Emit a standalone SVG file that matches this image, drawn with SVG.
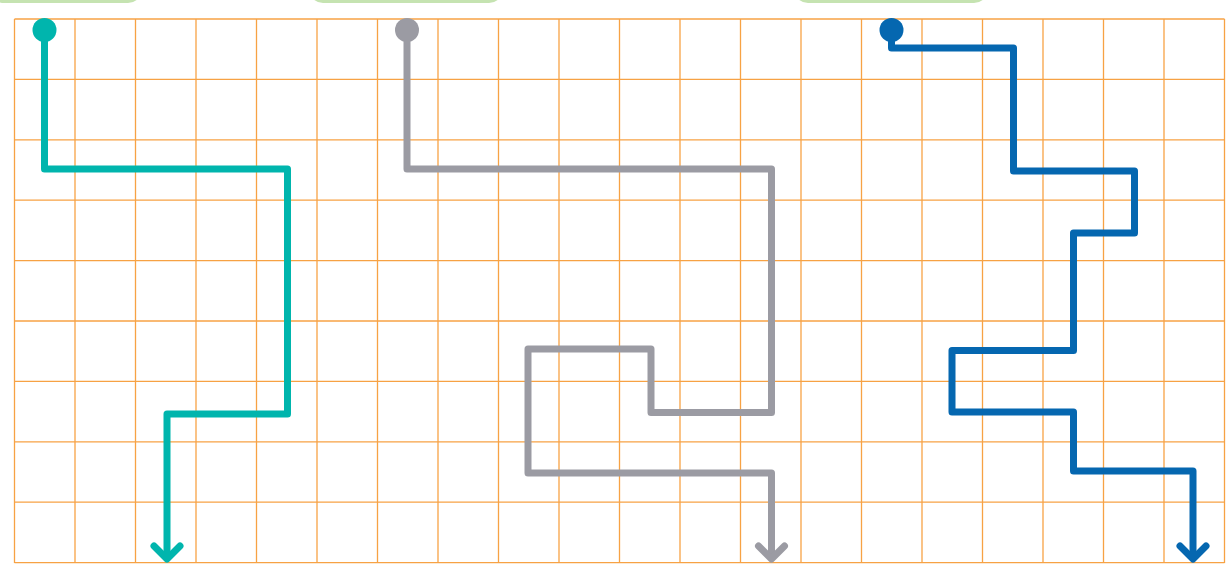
<svg xmlns="http://www.w3.org/2000/svg" width="1229" height="564" viewBox="0 0 1229 564">
<style>
.grid line{stroke:#f7a244;stroke-width:1.3}
.tab{fill:#c5e3b1}
.p{fill:none;stroke-width:7;stroke-linejoin:round;stroke-linecap:butt}
.ah{fill:none;stroke-width:7;stroke-linejoin:round;stroke-linecap:round}
.teal{stroke:#00b5ad}
.gray{stroke:#9b9ba3}
.blue{stroke:#0567b0}
</style>
<rect width="1229" height="564" fill="#ffffff"/>
<g id="tabs">
<rect class="tab" x="-10" y="-30" width="152" height="33" rx="14"/>
<rect class="tab" x="309" y="-30" width="194" height="33" rx="14"/>
<rect class="tab" x="794" y="-30" width="194" height="33" rx="14"/>
</g>
<g id="grid" class="grid">
<line x1="14.5" y1="19" x2="14.5" y2="563"/>
<line x1="75" y1="19" x2="75" y2="563"/>
<line x1="135.5" y1="19" x2="135.5" y2="563"/>
<line x1="196" y1="19" x2="196" y2="563"/>
<line x1="256.5" y1="19" x2="256.5" y2="563"/>
<line x1="317" y1="19" x2="317" y2="563"/>
<line x1="377.5" y1="19" x2="377.5" y2="563"/>
<line x1="438" y1="19" x2="438" y2="563"/>
<line x1="498.5" y1="19" x2="498.5" y2="563"/>
<line x1="559" y1="19" x2="559" y2="563"/>
<line x1="619.5" y1="19" x2="619.5" y2="563"/>
<line x1="680" y1="19" x2="680" y2="563"/>
<line x1="740.5" y1="19" x2="740.5" y2="563"/>
<line x1="801" y1="19" x2="801" y2="563"/>
<line x1="861.5" y1="19" x2="861.5" y2="563"/>
<line x1="922" y1="19" x2="922" y2="563"/>
<line x1="982.5" y1="19" x2="982.5" y2="563"/>
<line x1="1043" y1="19" x2="1043" y2="563"/>
<line x1="1103.5" y1="19" x2="1103.5" y2="563"/>
<line x1="1164" y1="19" x2="1164" y2="563"/>
<line x1="1224.5" y1="19" x2="1224.5" y2="563"/>
<line x1="14.5" y1="19" x2="1224.5" y2="19"/>
<line x1="14.5" y1="79.4" x2="1224.5" y2="79.4"/>
<line x1="14.5" y1="139.8" x2="1224.5" y2="139.8"/>
<line x1="14.5" y1="200.2" x2="1224.5" y2="200.2"/>
<line x1="14.5" y1="260.6" x2="1224.5" y2="260.6"/>
<line x1="14.5" y1="321" x2="1224.5" y2="321"/>
<line x1="14.5" y1="381.4" x2="1224.5" y2="381.4"/>
<line x1="14.5" y1="441.8" x2="1224.5" y2="441.8"/>
<line x1="14.5" y1="502.2" x2="1224.5" y2="502.2"/>
<line x1="14.5" y1="562.6" x2="1224.5" y2="562.6"/>
</g>
<g id="connectors">
<g id="teal-path">
<circle cx="44.5" cy="30" r="12" fill="#00b5ad"/>
<path class="p teal" d="M44.5 30 V169 H287.5 V414 H167 V559"/>
<path class="ah teal" d="M154 546 L167 559 L180 546"/>
</g>
<g id="gray-path">
<circle cx="407" cy="30" r="12" fill="#9b9ba3"/>
<path class="p gray" d="M407 30 V169 H771.5 V412.5 H651 V349 H528 V473 H771.5 V559"/>
<path class="ah gray" d="M758.5 546 L771.5 559 L784.5 546"/>
</g>
<g id="blue-path">
<circle cx="891.5" cy="30" r="12" fill="#0567b0"/>
<path class="p blue" d="M891.5 30 V48 H1013.5 V171 H1134.5 V233 H1073.5 V350.5 H952 V412 H1073.5 V471 H1193 V559"/>
<path class="ah blue" d="M1180 546 L1193 559 L1206 546"/>
</g>
</g>
</svg>
